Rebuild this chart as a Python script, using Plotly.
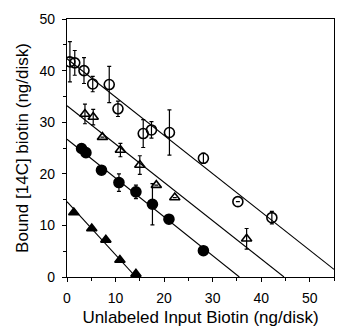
import plotly.graph_objects as go

# Open circles
oc_x = [0.6, 1.6, 3.5, 5.3, 8.7, 10.5, 15.7, 17.4, 21.1, 28.1, 35.2, 42.2]
oc_y = [41.7, 41.5, 40.0, 37.4, 37.3, 32.6, 27.8, 28.5, 28.0, 23.0, 14.6, 11.5]
oc_e = [3.9, 2.4, 2.5, 1.5, 3.5, 1.5, 2.7, 1.6, 4.4, 1.0, 0, 1.2]
# Open triangles
ot_x = [3.7, 5.4, 7.3, 11.0, 15.0, 18.4, 22.2, 37.0]
ot_y = [31.6, 31.0, 27.1, 24.6, 21.7, 17.8, 15.4, 7.4]
ot_e = [1.9, 1.5, 0, 1.3, 1.8, 0, 0, 2.0]
# Filled circles
fc_x = [3.0, 3.9, 7.1, 10.7, 14.2, 17.6, 21.0, 28.1]
fc_y = [24.9, 24.1, 20.7, 18.3, 16.5, 14.1, 11.2, 5.1]
fc_e = [0, 0, 0, 1.7, 1.3, 4.0, 0, 0]
# Filled triangles
ft_x = [1.4, 5.1, 8.0, 10.9, 14.2]
ft_y = [12.5, 9.4, 7.2, 3.3, 0.6]
ft_e = [0, 0, 0, 0, 0]

# Fitted lines: y-intercept and x-intercept
line_y0 = [42.3, 33.2, 26.7, 14.6]
line_x0 = [57.0, 44.7, 35.5, 14.2]

x_ticks = [0, 10, 20, 30, 40, 50]
y_ticks = [0, 10, 20, 30, 40, 50]
X_MAX = 55

fig = go.Figure()

for y0, x0 in zip(line_y0, line_x0):
    xe = min(x0, X_MAX)
    ye = y0 * (1 - xe / x0)
    fig.add_trace(go.Scatter(x=[0, xe], y=[y0, ye], mode="lines",
                             line=dict(color="black", width=1.1),
                             showlegend=False, hoverinfo="skip"))

series = [
    (oc_x, oc_y, oc_e, "circle-open", 10),
    (ot_x, ot_y, ot_e, "triangle-up-open", 9),
    (fc_x, fc_y, fc_e, "circle", 10),
    (ft_x, ft_y, ft_e, "triangle-up", 9),
]
for xs, ys, es, sym, sz in series:
    fig.add_trace(go.Scatter(
        x=xs, y=ys, mode="markers",
        marker=dict(symbol=sym, size=sz, color="black",
                    line=dict(color="black", width=1.6)),
        error_y=dict(type="data", array=es, visible=True, color="black",
                     thickness=1.2, width=2),
        showlegend=False))

font = dict(family="Liberation Sans, Arial, sans-serif", size=14, color="black")

fig.update_layout(
    width=339, height=328,
    margin=dict(l=67, r=5, t=19, b=51),
    paper_bgcolor="white", plot_bgcolor="white",
    font=font,
    xaxis=dict(range=[0, X_MAX], tickvals=x_ticks, ticks="outside", ticklen=4,
               tickwidth=1, tickcolor="black", showgrid=False, zeroline=False,
               showline=True, linecolor="black", linewidth=1.2, mirror=True,
               minor=dict(dtick=5, ticks="outside", ticklen=3, tickcolor="black"),
               ticklabelstandoff=4, automargin=False,
               title=dict(text="Unlabeled Input Biotin (ng/disk)", standoff=6),
               tickfont=font),
    yaxis=dict(range=[0, 50], tickvals=y_ticks, ticks="outside", ticklen=4,
               tickwidth=1, tickcolor="black", showgrid=False, zeroline=False,
               showline=True, linecolor="black", linewidth=1.2, mirror=True,
               minor=dict(dtick=5, ticks="outside", ticklen=3, tickcolor="black"),
               ticklabelstandoff=4, automargin=False,
               title=dict(text="Bound [14C] biotin (ng/disk)", standoff=6),
               tickfont=font),
)

fig.write_html("out.html")
